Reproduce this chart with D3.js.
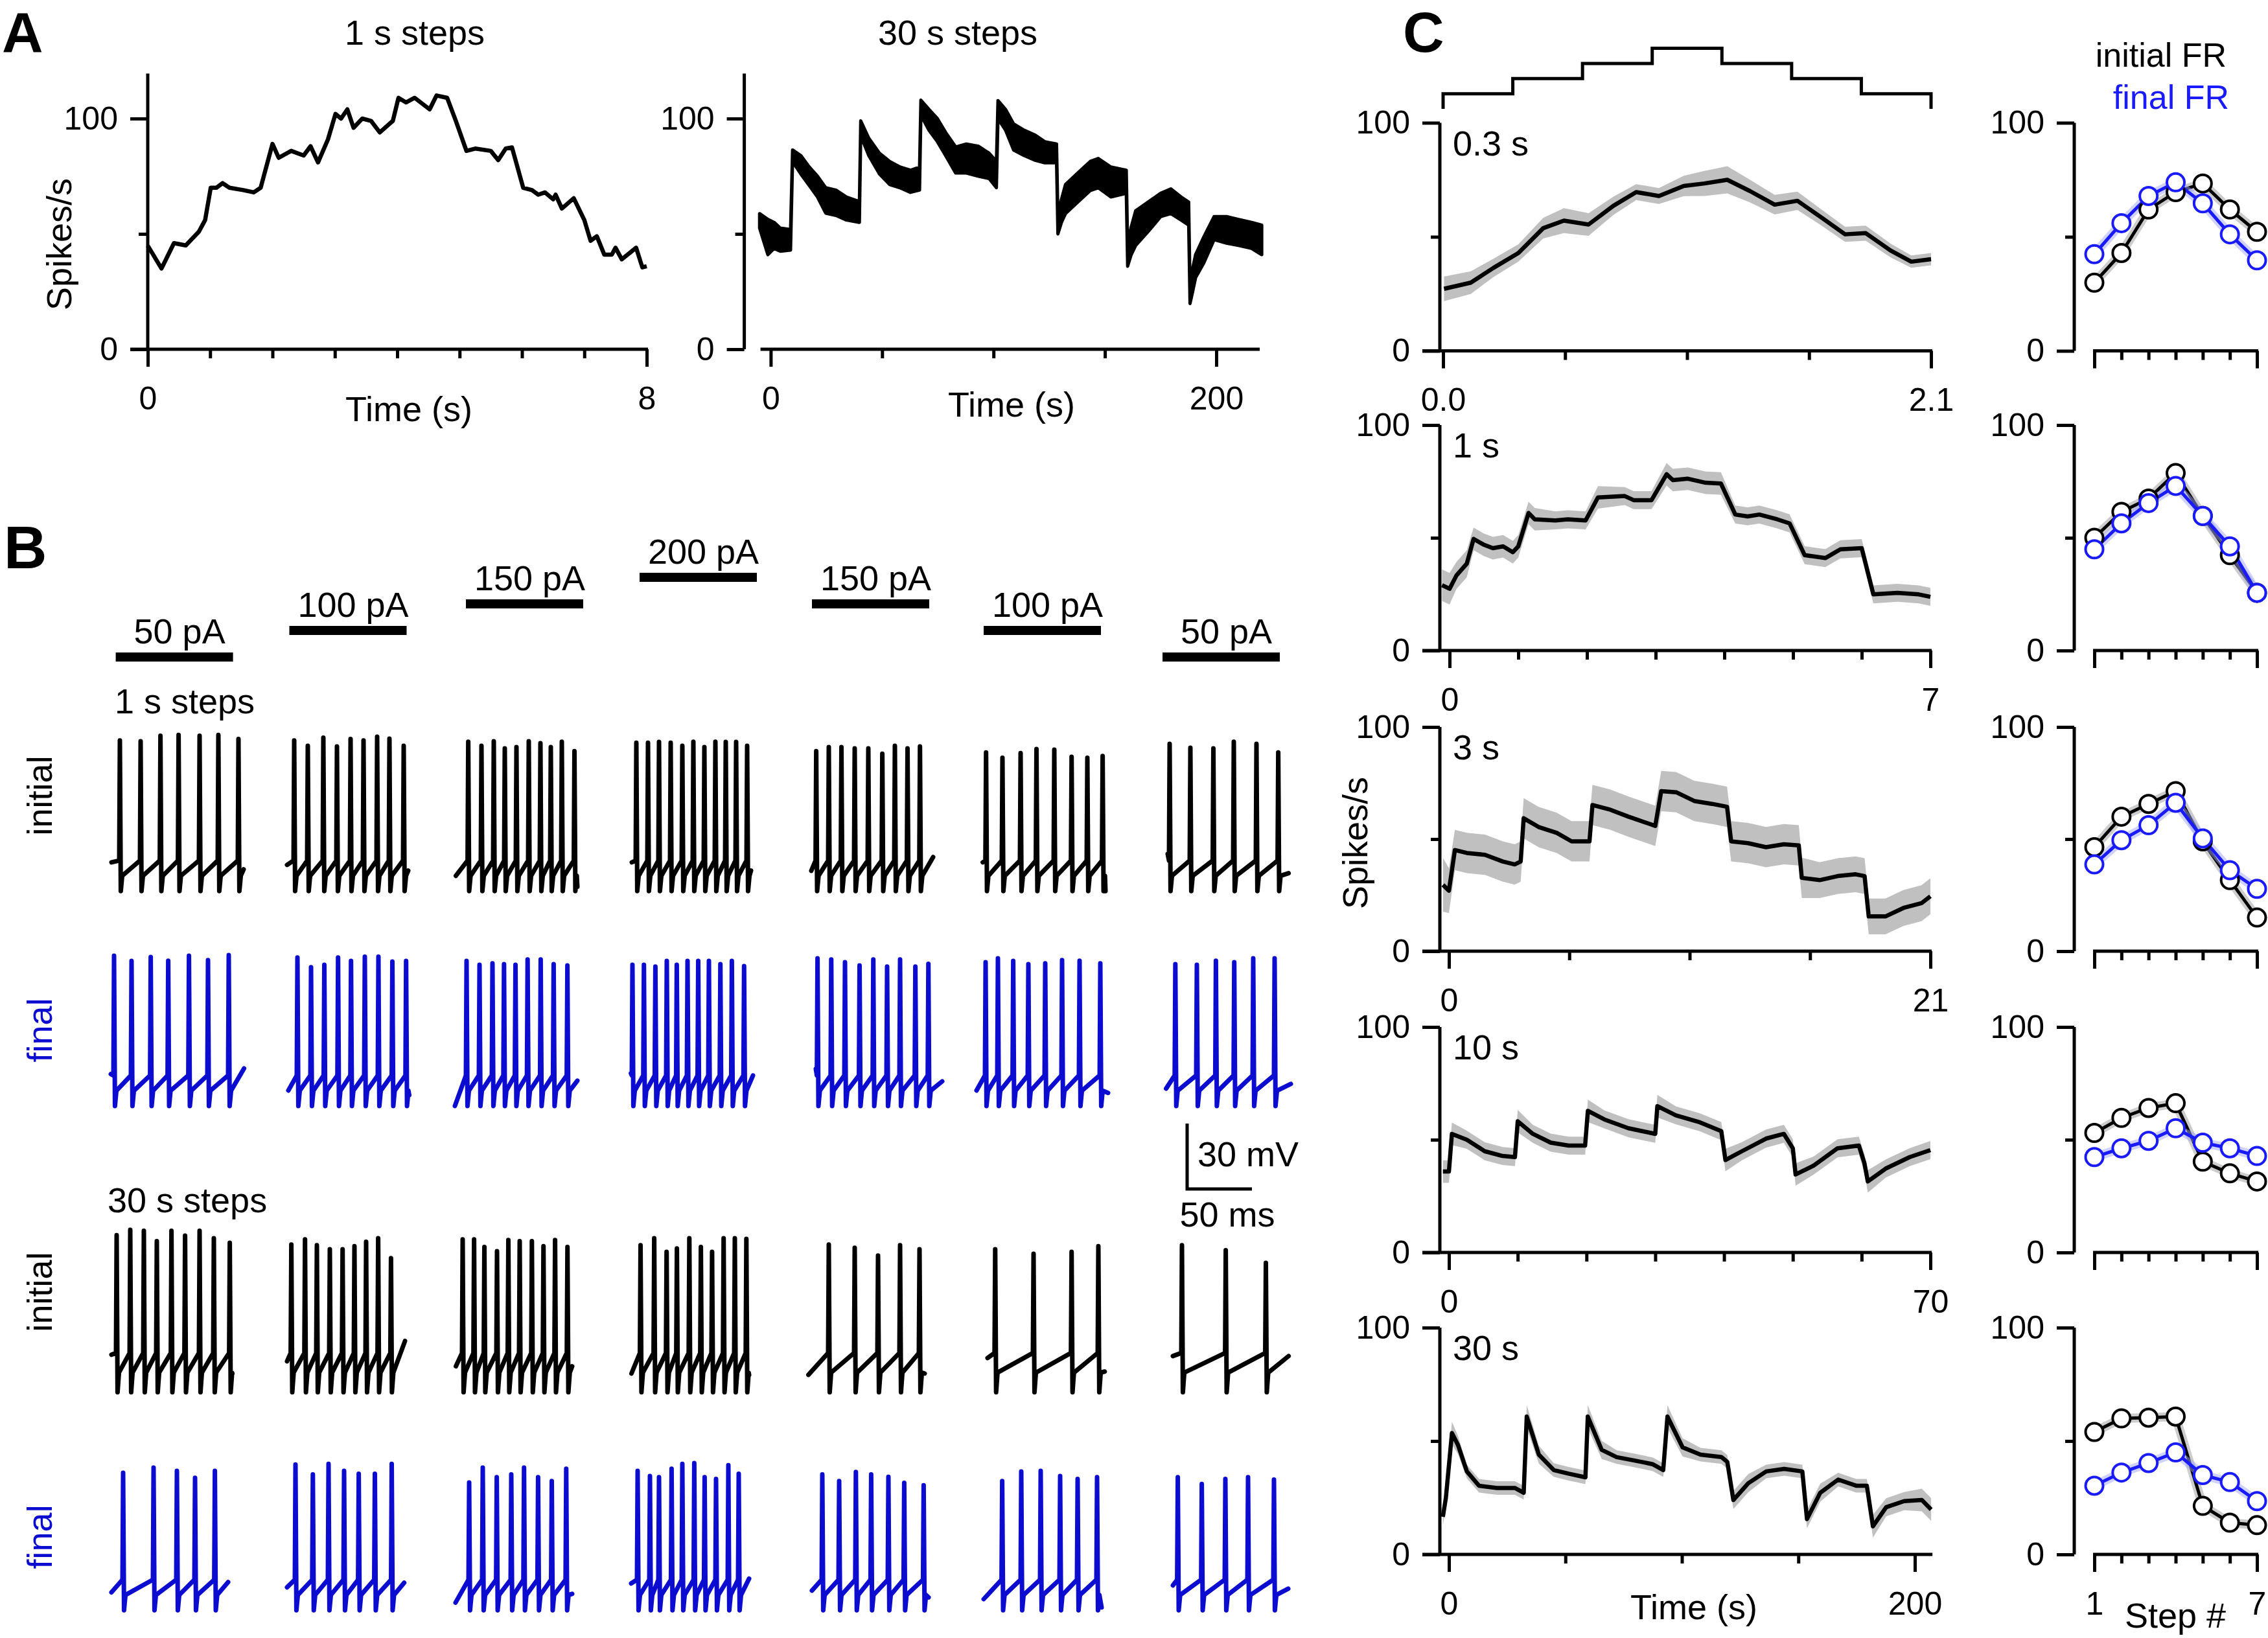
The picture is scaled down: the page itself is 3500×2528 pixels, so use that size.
<!DOCTYPE html>
<html>
<head>
<meta charset="utf-8">
<script src="https://cdn.jsdelivr.net/npm/d3@7"></script>
<style>
  body { margin: 0; background: #fff; }
  text { font-family: "Liberation Sans", Arial, Helvetica, sans-serif; }
</style>
</head>
<body>
<svg id="fig" width="3500" height="2528"></svg>
<script>
// ---------------- data: panel A ----------------
const aShortTime = [0,0.22,0.42,0.61,0.82,0.92,1.01,1.1,1.2,1.31,1.53,1.7,1.81,2.0,2.1,2.3,2.5,2.61,2.73,2.89,3.01,3.1,3.2,3.3,3.44,3.58,3.72,3.93,4.02,4.14,4.28,4.52,4.63,4.8,4.94,5.11,5.25,5.5,5.62,5.74,5.84,6.02,6.16,6.26,6.37,6.5,6.54,6.64,6.83,7.0,7.1,7.2,7.32,7.44,7.5,7.6,7.83,7.93,8.0];
const aShortRate = [44.9,35,46,45,51,56,70,70,72,70,69,68,70,89,83,86,84,88,81,91,102,100,104,96,100,99,94,99,109,107,109,104,110,109,99,86,87,86,82,87,87.5,70,69,67,68,65,67,61,65.5,56,47,49,41,41,44,39,44,35.5,36];

const aLongTime = [-5,-1.3,1.5,4.3,8.9, 9.8,13.5,17.3,21,24.7,29.3,34,39.8, 40.4,44,48.8,53.4,58,62.7,66.8, 67.4,71,74.8,78.5,83,87.8,93.3,98,101.3, 102,105.4,109,113.7,118.4,123,128.3, 128.9,130.5,132.3,137.8,143.4,147,152.7,159.6, 160.2,161.8,163.8,169.4,175,179.6,184.2,187.6, 188.2,189.4,190.7,194.4,199,204.6,210,215.8,220.4];
const aLongLow  = [52.5,41,43.7,42.5,43, 81.4,76,71,66,59,58,56,55, 92.7,84,76,71.4,70,68,69, 101.5,95,90,84,76.4,76.4,75,74,70, 100,95,86.4,84,82,80.8,80.8, 50,55,58.8,63.8,68.8,70,66,67.6, 36,41,45,51,57.5,58.8,56,53.8, 19.8,25,31,37.4,47.5,46,45,43.7,41];
const aLongHigh = [58.8,56.3,55,52.5,51.9, 86.4,84,79,75,70,69,66,64, 99,91.5,85,81.4,79,77.6,79, 108,104,100,94,87.7,89,88,85,81.4, 107.8,104,97.7,95,93,90,89, 58,65,71.4,76.4,81.4,82.7,79,77.6, 45,53,60,63.8,67.6,69.5,66,63.8, 28,35,41,48.7,57.5,57.5,56.3,55,53.8];

// ---------------- data: panel B ----------------
const currents = [50, 100, 150, 200, 150, 100, 50];
const bRowNames = ["initial", "final", "initial", "final"];
// spike times (ms from step start) per row, per current step
const bSpikeMs = [
  [[3.2,19.2,34.5,48.5,64.7,79.2,94.7],
   [3.75,14.25,26.25,36.75,47.25,57.25,67.75,77.25,88.25],
   [1.8,12,21.5,30,39,48.5,57.5,65.5,74,83.75],
   [-2.5,6.5,15,24,33,41.5,50,58.5,66.5,74.5,83],
   [3.3,13,22.75,33,43.5,54.3,64,73.75,83.35],
   [1.85,14.5,28.5,40.75,54.5,67.85,80,91.8],
   [5.5,21.5,39.25,55,72.5,89.3]],
  [[-1.3,12.2,27,40.5,56.5,71.2,87.2],
   [6.25,16.75,27,37.6,47.6,58.25,68.75,79.5,90.1],
   [0.5,10.5,20.5,29.4,38.25,47.6,57.7,67.7,78.3],
   [-5.5,3.35,12.2,21,28.7,37,45.25,53.5,62.35,71.2,80.65],
   [4.3,14.9,25.5,36.75,47.35,58,68,79.8,89.85],
   [1.5,11,22.8,34.5,47.5,60.5,74,90],
   [9.9,26.5,41.2,55.35,70,86.5]],
  [[0.7,11.2,21.7,31.7,43,53.5,64.7,75.7,88],
   [1.55,12.1,21.25,31.25,41.1,50.25,59.25,68.55,78.45],
   [-2.5,6.3,14.25,24,32.75,41.5,50.9,59.85,68.8,78.35],
   [0.75,11.3,20.85,28.8,38.4,47.3,55.95,64.85,73.5,82.4],
   [13,33,51,68,83],
   [8.9,38.5,67.85,88.5],
   [15,48.8,79.75]],
  [[5.7,29.2,47.2,61.2,76.5],
   [4.75,18.15,30.25,42.25,53.55,66,79],
   [2.5,13,23.8,35,44.85,55.7,66.25,77.4],
   [-1.5,8,15,24.7,33,42.2,50.2,59,68.5,76.5],
   [8,21,33.9,45.7,59,71.2,86.2],
   [14.3,29,44,59,72.5,87.5],
   [11.8,30.3,48.5,66,86]]
];
// spike peak voltage (mV, relative units)
const bPeakMv = [
  [[11.1,10.7,13.2,13.6,13.2,13.6,11.7],
   [11.1,8.6,12.3,8.3,11.7,11.1,12.8,11.9,8.6],
   [10.5,8.6,10.7,7.4,8,10.7,9.8,8,10.5,6.2],
   [10,10,10.4,10,8.6,10.5,8,10.5,10.4,10.4,8.6],
   [6.2,8,8,7.4,7.4,5,8.6,7.4,8.3],
   [5.6,3.1,5.3,7.1,6.8,3.6,3.1,3.9],
   [9.5,7.7,7.4,10.5,9.5,5.6]],
  [[11.9,9.5,11.3,9.6,11.9,9.9,12.2],
   [11.1,6.6,7.7,11.1,9.5,11.4,11.4,9.2,9.5],
   [9.5,7.7,8.4,8,7.7,10.2,10.2,8,7.4],
   [7.7,7.7,6.9,9.5,7.7,9.5,9.5,9.5,8,9.5,7.1],
   [10.7,10.2,8.9,7.4,10.2,6.9,10.2,6.9,8.2],
   [8.9,10.7,9.5,8,8.4,9.9,9.6,8.4],
   [8,7.7,9.6,8.9,10.7,10.7]],
  [[10,12.5,12,7.3,12,9.8,12,8.6,6.5],
   [5.7,8.1,5.4,3.6,3.6,5,7,8.6,-0.5],
   [8.1,8.1,4.6,2.7,7.8,7.3,7.3,5,7.8,4.6],
   [5.4,8.6,2.4,3.9,8.6,4.6,2.4,8.6,8.6,8.3],
   [5.7,4.2,0.7,5.4,3.6],
   [3.6,1.5,2.4,5],
   [5.4,3.1,-2.7]],
  [[8,10.4,8.9,5.7,8.9],
   [11.8,7.3,12.1,8.9,7.6,7.6,12.1],
   [3.6,10.4,6,7.3,10.4,6,4.2,9.9],
   [8.9,6.5,6,9.9,12.1,12.5,6,5.2,11.5,7.6],
   [7.3,4.2,8.4,7.3,6.2,3.4,2.3],
   [4.2,8.6,8.9,6.5,5.2,6],
   [6,2.9,5.2,6,4.9]]
];
// trace start/end: [t0 ms, v0 mV, t1 ms, v1 mV]
const bEnds = [
  [[-3.3,-44.8,98.7,-48],[-1.75,-46,91.75,-48.6],[-7.75,-51,86,-56],[-6,-44.8,86,-48.6],[-0.5,-48.7,93.5,-42.4],[-0.7,-44.8,94,-58],[4,-41,97.3,-49.8]],
  [[-3.8,-42.4,99,-39.8],[-0.75,-49.9,92.5,-52],[-8.5,-57,86,-45.4],[-6.7,-42,87.5,-43],[3,-40,100.5,-45.7],[-5.5,-49.9,96,-51],[2.8,-49,99,-46.9]],
  [[-3.3,-44.8,90,-53.4],[-1.75,-47.8,89.25,-38.5],[-7.75,-50.1,82,-50.1],[-6.25,-53.4,84.5,-54],[-2.75,-54,87,-53.4],[3,-46.3,93.4,-52.5],[8,-45.4,97.3,-45.4]],
  [[-3.3,-46.8,86.7,-42.1],[-1.75,-44.5,88.6,-42.4],[-8,-51.5,82,-47.5],[-6.5,-42.7,84.5,-40.5],[0,-46,90,-49.1],[0,-49.9,91,-53.7],[8,-43.6,97,-45.1]]
];
const bThreshMv = [-44, -43, -44, -41];
const bTroughMv = [-58, -57, -62, -55];
const bRecovMv  = [-51, -50, -53, -48];

// ---------------- data: panel C ----------------
const cNames = ["0.3 s", "1 s", "3 s", "10 s", "30 s"];
const cTicks = [[0,0.525,1.05,1.575,2.1],[0,1,2,3,4,5,6,7],[0,5.25,10.5,15.75,21],[0,10,20,30,40,50,60,70],[0,50,100,150,200]];
const cAxisEnd = [2.1, 7, 21, 70, 207];

const c03Time = [0.004,0.119,0.217,0.324,0.431,0.52,0.626,0.733,0.831,0.929,1.036,1.125,1.223,1.32,1.427,1.525,1.632,1.73,1.819,1.926,2.015,2.1];
const c03Mean = [27.2,29.9,36.4,42.9,53.8,57.1,55.4,63.6,69.6,67.9,72.3,73.4,75,70.1,64.1,65.8,58.2,51.1,51.6,44,39.1,40.2];
const c03Sem  = [5.4,5,4,3.8,4.5,5.5,5,4,3.5,3.5,4.5,5.5,6,5,4.3,4,3.5,3.3,3.3,3,2.7,2.7];

const c1Time = [-0.11,0,0.1,0.25,0.35,0.5,0.63,0.78,0.92,1.0,1.15,1.24,1.54,1.72,1.98,2.16,2.55,2.68,2.94,3.16,3.25,3.47,3.73,3.95,4.16,4.34,4.51,4.77,4.95,5.17,5.47,5.69,6.0,6.17,6.52,6.83,7.0];
const c1Mean = [29,27.4,33.3,38.5,49.5,46.9,45.4,46.2,43.6,46.2,61,58.2,57.7,58.2,57.7,67.9,68.5,66.7,66.7,78.2,75.6,76.2,74.4,74.1,60.3,59.5,60.3,58.2,56.4,42.3,41,44.9,45.4,24.9,25.6,24.9,23.8];
const c1Sem  = [7,7,6,6,5,5,5,5,5,5,5,5,4,4,4,5,4,4,4,5,5,5,5,5,4,4,4,4,4,4,4,4,4,4,4,4,4];

const c3Time = [-0.26,0,0.26,0.78,1.57,2.35,2.87,3.13,3.26,3.91,4.7,5.35,6.13,6.26,7.04,7.83,9.0,9.26,9.91,10.7,11.48,12.13,12.31,13.04,13.83,14.61,15.26,15.39,16.17,16.96,17.74,18.13,18.31,19.04,19.83,20.61,21];
const c3Mean = [29.6,27,45.1,43.8,43,40,38.7,40,59.3,55.4,52.8,49,49,65.2,63.1,60,55.9,71.4,70.9,67,65.7,64.4,49,48.2,46.4,47.7,47.2,32.7,31.7,33.5,34.3,33.5,15.5,15.5,19.3,21.4,24.5];
const c3Sem  = [12,10,9,9,9,9,9,9,9,9,9,9,9,9,9,9,9,9,9,9,9,9,9,9,9,9,9,9,8,8,8,8,8,8,8,8,8];

const c10Time = [-0.87,0,0.43,2.6,5.2,7.8,9.6,10,12.2,14.8,17.4,19.8,20.2,22.6,26.1,30,30.3,33,36.5,39.6,40.2,42.6,46.1,48.7,50,50.4,53,56.5,59.6,60.4,60.9,63.5,67,70];
const c10Mean = [35.9,35.9,52.6,50,44.9,42.8,42.3,58.2,52.6,48.7,47.4,47.4,62.8,59,55.1,52.6,64.9,60.8,57.7,53.8,41,44.9,50.5,52.6,46.2,34.6,38.5,46.2,47.4,39.7,31.5,37.2,42.3,45.4];
const c10Sem  = [5,5,5,4,4,4,4,5,4,4,4,4,5,4,4,4,5,4,4,4,5,4,4,4,4,5,4,4,4,4,5,4,4,4];

const c30Time = [-2.6,-1.3,1.3,3.9,7.7,12.9,20.6,28.3,32.1,33.4,38.6,45,51.4,58.6,59.6,65.6,72,79.7,87.4,92,93.8,100.3,108,117,119.5,122.1,128.5,136.2,143.9,151.7,153.7,159.4,167.1,174.8,179.4,182,187.7,195.4,203,207];
const c30Mean = [16.6,25,53.5,48.2,36.6,30.3,29.3,29.3,27.2,60.8,44,37.2,35.6,34,60.8,46.1,42.9,41.4,39.8,37.2,60.8,47.2,44,42.9,40.8,24,31.4,36.6,37.7,36.6,15.6,27.2,33,30.3,30.3,12.4,20.8,23.5,24,19.8];
const c30Sem  = [4,4,5,4,3,3,3,3,3,5,4,3,3,3,5,4,3,3,3,3,5,4,3,3,3,4,4,3,3,3,4,4,3,3,3,5,4,4,5,5];

const stepNumbers = [1, 2, 3, 4, 5, 6, 7];
const frInitial = [
  [29.9,42.9,62,69.6,73.4,62,52.2],
  [50,61.5,67.4,78.7,59.7,42.3,25.6],
  [46.4,60,65.7,71.4,49,31.7,15],
  [53,59.7,64.1,66.2,40.3,35.1,31.5],
  [54,60,60.3,60.8,21.4,14,12.9]
];
const frFinal = [
  [42.4,56,67.9,73.9,64.7,51.1,39.7],
  [44.9,56.4,65.4,73,59.7,46.2,25.6],
  [38.7,49.5,56.2,66.2,50.3,36.1,27.8],
  [42.3,46.2,49.5,55.1,48.7,46.2,42.8],
  [30.3,36.1,40.3,45,35,31.9,23.5]
];
const stimStepTime = [0, 0.3, 0.6, 0.9, 1.2, 1.5, 1.8, 2.1];

// ---------------- drawing ----------------
const svg = d3.select("#fig");
const FONT = '"Liberation Sans", Arial, Helvetica, sans-serif';
const TRACE_BLUE = "#0c0cd0";
const FR_BLUE = "#1a1aff";
const AX = 5;

function label(x, y, s, o = {}) {
  return svg.append("text").attr("x", x).attr("y", y).text(s)
    .attr("font-size", o.size || 54)
    .attr("font-weight", o.weight || null)
    .attr("text-anchor", o.anchor || "start")
    .attr("fill", o.fill || "#000")
    .attr("transform", o.rot ? `rotate(-90,${x},${y})` : null);
}

function styleAxis(sel) {
  sel.select(".domain").remove();
  sel.selectAll("line").attr("stroke", "#000").attr("stroke-width", AX);
  sel.attr("font-size", 50).attr("font-family", FONT);
  sel.selectAll("text").attr("fill", "#000");
}

// o: ax (x of y axis), yTop, xFrom/xTo (px of x axis line), xMajor, xMinor, xFmt
function drawAxes(x, y, o) {
  const g = svg.append("g");
  const y0 = y(0);
  g.append("line").attr("x1", o.ax).attr("x2", o.ax).attr("y1", y0).attr("y2", y(o.yTop))
    .attr("stroke", "#000").attr("stroke-width", AX);
  g.append("line").attr("x1", o.xFrom).attr("x2", o.xTo).attr("y1", y0).attr("y2", y0)
    .attr("stroke", "#000").attr("stroke-width", AX);
  g.append("g").attr("transform", `translate(0,${y0})`)
    .call(d3.axisBottom(x).tickValues(o.xMajor).tickSize(27).tickPadding(30).tickFormat(o.xFmt))
    .call(styleAxis);
  if (o.xMinor) g.append("g").attr("transform", `translate(0,${y0})`)
    .call(d3.axisBottom(x).tickValues(o.xMinor).tickSize(14).tickFormat(""))
    .call(styleAxis);
  g.append("g").attr("transform", `translate(${o.ax},0)`)
    .call(d3.axisLeft(y).tickValues([0, 100]).tickSize(27).tickPadding(19).tickFormat(d3.format("d")))
    .call(styleAxis);
  g.append("g").attr("transform", `translate(${o.ax},0)`)
    .call(d3.axisLeft(y).tickValues([50]).tickSize(14).tickFormat(""))
    .call(styleAxis);
  return g;
}

// ===== Panel A =====
label(3, 80, "A", { size: 88, weight: "bold" });
{
  const x = d3.scaleLinear().domain([0, 8]).range([228, 998]);
  const y = d3.scaleLinear().domain([0, 100]).range([539, 183]);
  drawAxes(x, y, { ax: 228, yTop: 119.5, xFrom: 201, xTo: x(8) + 2, xMajor: [0, 8], xMinor: d3.range(1, 8), xFmt: d3.format("d") });
  svg.append("path").datum(d3.zip(aShortTime, aShortRate))
    .attr("fill", "none").attr("stroke", "#000").attr("stroke-width", 6.5).attr("stroke-linejoin", "round")
    .attr("d", d3.line().x(d => x(d[0])).y(d => y(d[1])));
  label(640, 69, "1 s steps", { anchor: "middle" });
  label(631, 650, "Time (s)", { anchor: "middle" });
  label(110, 377, "Spikes/s", { anchor: "middle", rot: true });
}
{
  const x = d3.scaleLinear().domain([0, 200]).range([1189.4, 1877]);
  const y = d3.scaleLinear().domain([0, 100]).range([539, 183]);
  drawAxes(x, y, { ax: 1148.6, yTop: 119.5, xFrom: x(-4.6), xTo: x(219.5), xMajor: [0, 200], xMinor: [50, 100, 150], xFmt: d3.format("d") });
  svg.append("path").datum(d3.zip(aLongTime, aLongLow, aLongHigh))
    .attr("fill", "#000").attr("stroke", "#000").attr("stroke-width", 5).attr("stroke-linejoin", "round")
    .attr("d", d3.area().x(d => x(d[0])).y0(d => y(d[1])).y1(d => y(d[2])));
  label(1478, 69, "30 s steps", { anchor: "middle" });
  label(1561, 643, "Time (s)", { anchor: "middle" });
}

// ===== Panel B =====
label(6, 877, "B", { size: 92, weight: "bold" });
{
  const colStart = [178.6, 446.5, 719, 987, 1253, 1518, 1794];
  const barW = 181;
  const rowZero = [1180, 1515, 1940, 2300];
  const cur = d3.scaleLinear().domain([50, 200]).range([1014, 891]);

  currents.forEach((c, i) => {
    svg.append("rect").attr("x", colStart[i]).attr("y", cur(c) - 7).attr("width", barW).attr("height", 14).attr("fill", "#000");
    label(colStart[i] + barW / 2 + 8, cur(c) - 21, c + " pA", { anchor: "middle" });
  });

  label(177, 1101, "1 s steps");
  label(166, 1871, "30 s steps");
  const rowLabelY = [1228, 1590, 1994, 2372];
  bRowNames.forEach((s, r) => label(80, rowLabelY[r], s, { anchor: "middle", rot: true, fill: r % 2 ? TRACE_BLUE : "#000" }));

  bSpikeMs.forEach((row, r) => {
    const ys = d3.scaleLinear().domain([0, 30]).range([rowZero[r], rowZero[r] - 101]);
    row.forEach((spikes, c) => {
      const xs = d3.scaleLinear().domain([0, 50]).range([colStart[c], colStart[c] + 100]);
      const e = bEnds[r][c];
      const pts = [[e[0], e[1]]];
      spikes.forEach((t, k) => {
        pts.push([t - 0.5, bThreshMv[r]]);
        pts.push([t, bPeakMv[r][c][k]]);
        pts.push([t + 0.7, bTroughMv[r]]);
        pts.push([t + 1.8, bRecovMv[r]]);
      });
      pts.push([e[2], e[3]]);
      svg.append("path").datum(pts)
        .attr("fill", "none").attr("stroke", r % 2 ? TRACE_BLUE : "#000")
        .attr("stroke-width", 7).attr("stroke-linejoin", "round").attr("stroke-linecap", "round")
        .attr("d", d3.line().x(d => xs(d[0])).y(d => ys(d[1])));
    });
  });

  // scale bar
  const sx = d3.scaleLinear().domain([0, 50]).range([1832, 1932]);
  const sy = d3.scaleLinear().domain([0, 30]).range([1835, 1734]);
  svg.append("path").attr("fill", "none").attr("stroke", "#000").attr("stroke-width", AX)
    .attr("d", `M${sx(0)},${sy(30)}V${sy(0)}H${sx(50)}`);
  label(1848, 1800, "30 mV");
  label(1894, 1893, "50 ms", { anchor: "middle" });
}

// ===== Panel C =====
label(2165, 80, "C", { size: 88, weight: "bold" });
{
  const cY0 = [541.5, 1004, 1468, 1933, 2399];
  const cY100 = [189.5, 656, 1122, 1585, 2049];
  const cX0 = [2227, 2237, 2236, 2236, 2236];
  const cX1 = [2980, 2979, 2979, 2979, 2955];
  const cFmt = [d3.format(".1f"), d3.format("d"), d3.format("d"), d3.format("d"), d3.format("d")];
  const rows = [
    [c03Time, c03Mean, c03Sem], [c1Time, c1Mean, c1Sem], [c3Time, c3Mean, c3Sem],
    [c10Time, c10Mean, c10Sem], [c30Time, c30Mean, c30Sem]
  ];
  rows.forEach(([T, M, S], i) => {
    const ticks = cTicks[i];
    const tMax = ticks[ticks.length - 1];
    const x = d3.scaleLinear().domain([0, tMax]).range([cX0[i], cX1[i]]);
    const y = d3.scaleLinear().domain([0, 100]).range([cY0[i], cY100[i]]);
    const data = d3.zip(T, M, S);
    svg.append("path").datum(data).attr("fill", "#c0c0c0")
      .attr("d", d3.area().x(d => x(d[0])).y0(d => y(d[1] - d[2])).y1(d => y(d[1] + d[2])));
    svg.append("path").datum(data).attr("fill", "none").attr("stroke", "#000").attr("stroke-width", 6.5)
      .attr("stroke-linejoin", "round")
      .attr("d", d3.line().x(d => x(d[0])).y(d => y(d[1])));
    drawAxes(x, y, { ax: 2222, yTop: 100, xFrom: 2195, xTo: x(cAxisEnd[i]) + 2, xMajor: [0, tMax], xMinor: ticks.slice(1, -1), xFmt: cFmt[i] });
    label(2242, cY100[i] + 50, cNames[i]);

    // right column: firing rate per step
    const xr = d3.scaleLinear().domain([1, 7]).range([3232, 3483]);
    const last = i === rows.length - 1;
    drawAxes(xr, y, { ax: 3201, yTop: 100, xFrom: xr(1) - 2, xTo: xr(7) + 2, xMajor: [1, 7], xMinor: [2, 3, 4, 5, 6], xFmt: last ? d3.format("d") : () => "" });
    const series = [[frInitial[i], "#000", "#999"], [frFinal[i], FR_BLUE, "#9fa3ff"]];
    series.forEach(([vals, col, shade]) => {
      const pts = d3.zip(stepNumbers, vals);
      const ln = d3.line().x(d => xr(d[0])).y(d => y(d[1]));
      svg.append("path").datum(pts).attr("fill", "none").attr("stroke", shade).attr("stroke-opacity", 0.5)
        .attr("stroke-width", 14).attr("stroke-linejoin", "round").attr("d", ln);
      svg.append("path").datum(pts).attr("fill", "none").attr("stroke", col).attr("stroke-width", 5)
        .attr("stroke-linejoin", "round").attr("d", ln);
    });
    series.forEach(([vals, col]) => {
      svg.append("g").selectAll("circle").data(d3.zip(stepNumbers, vals)).join("circle")
        .attr("cx", d => xr(d[0])).attr("cy", d => y(d[1])).attr("r", 13.5)
        .attr("fill", "#fff").attr("stroke", col).attr("stroke-width", 4);
    });

    if (i === 0) {
      // current staircase above the first row
      const cy = d3.scaleLinear().domain([0, 200]).range([168, 74.6]);
      const pts = [[0, 0]].concat(currents.map((c, k) => [stimStepTime[k], c]), [[2.1, 50], [2.1, 0]]);
      svg.append("path").datum(pts).attr("fill", "none").attr("stroke", "#000").attr("stroke-width", AX)
        .attr("d", d3.line().x(d => x(d[0])).y(d => cy(d[1])).curve(d3.curveStepAfter));
    }
  });
  label(2110, 1301, "Spikes/s", { anchor: "middle", rot: true });
  label(2614, 2499, "Time (s)", { anchor: "middle" });
  label(3357, 2512, "Step #", { anchor: "middle" });
  label(3436, 103, "initial FR", { anchor: "end", size: 52 });
  label(3440, 168, "final FR", { anchor: "end", size: 52, fill: FR_BLUE });
}
</script>
</body>
</html>
